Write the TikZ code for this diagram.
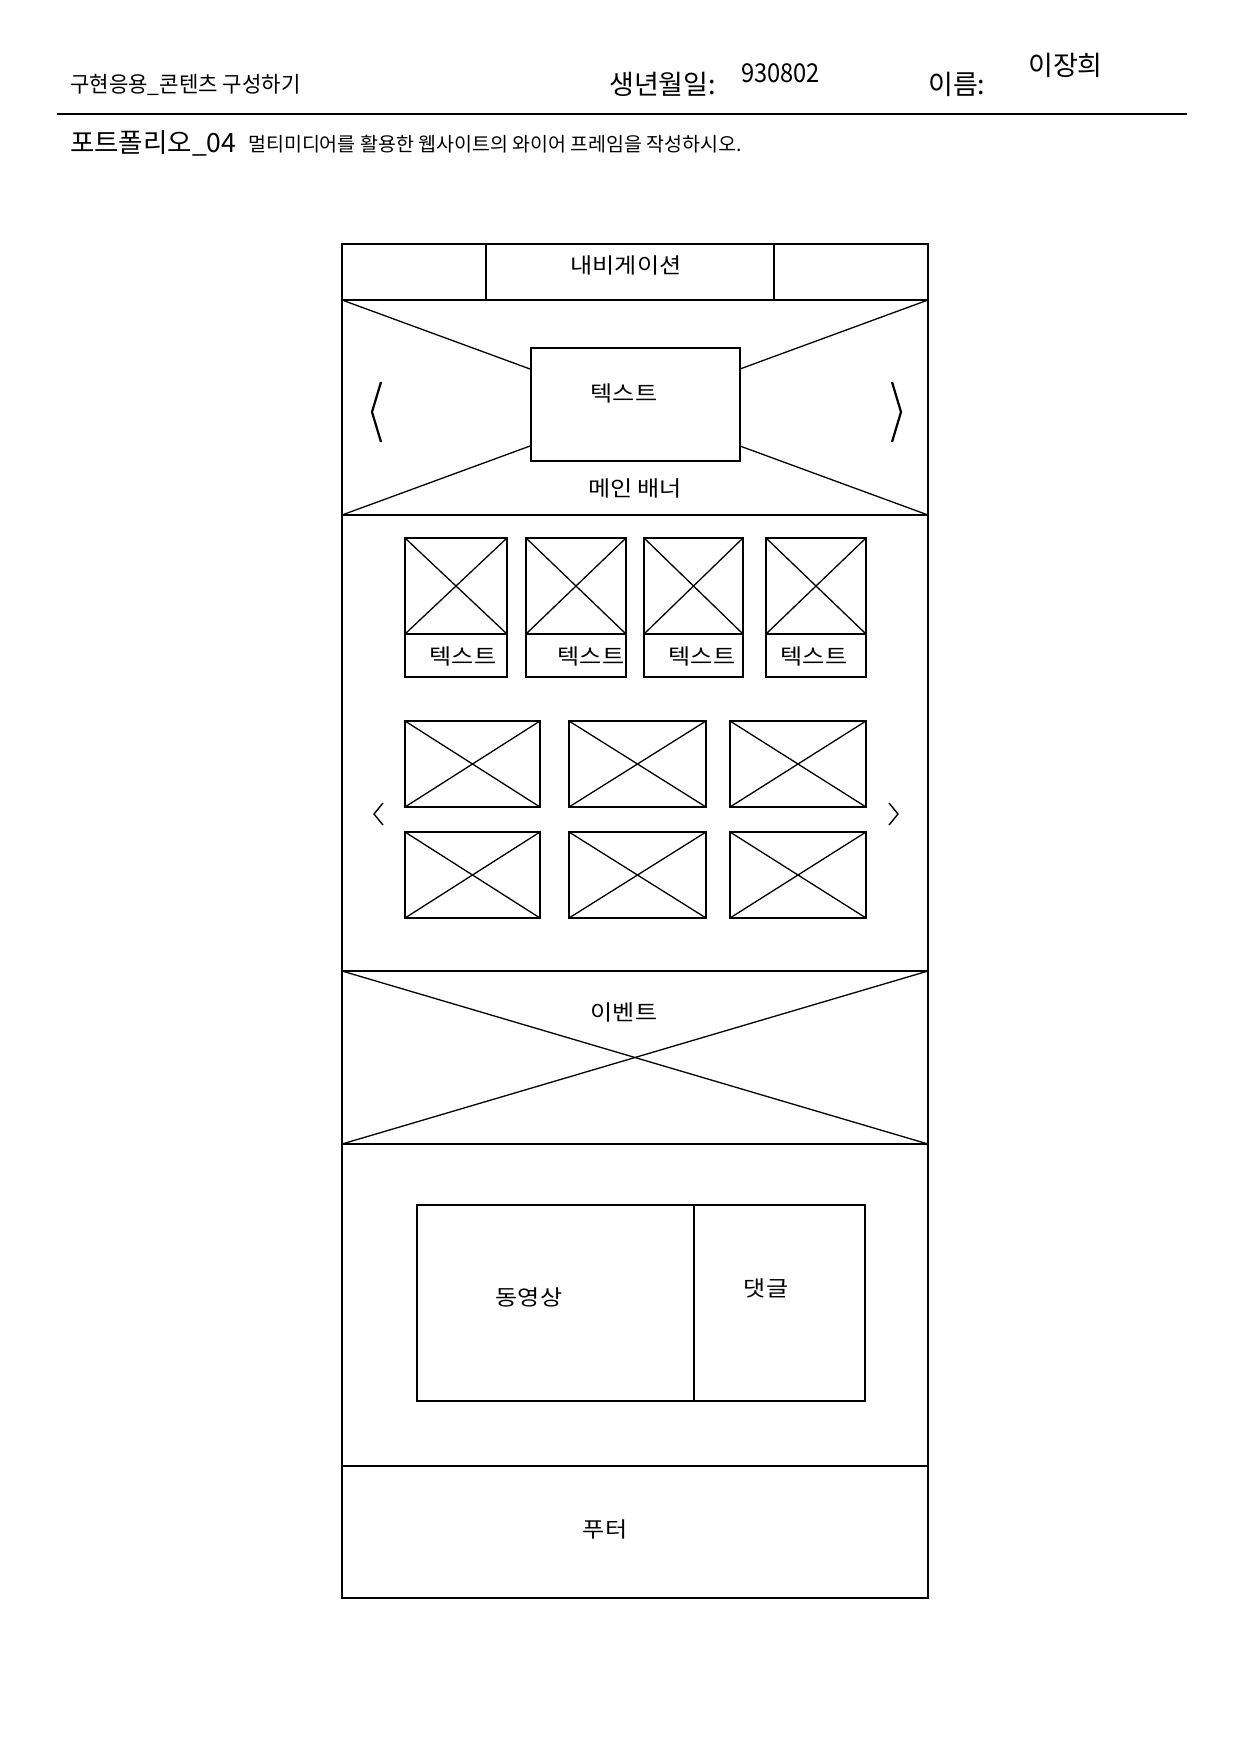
\documentclass[tikz,border=0pt]{standalone}
\usepackage{fontspec}
\setmainfont{Noto Sans CJK KR}
\newfontfamily\hfont{Noto Sans CJK KR}
\newfontfamily\kfont[FakeStretch=1.12]{Noto Sans CJK KR}
\begin{document}
\begin{tikzpicture}[x=1pt,y=-1pt,
  box/.style={draw, line width=1.6pt, inner sep=0pt, outer sep=0pt, anchor=north west},
  wbox/.style={box, fill=white},
  diag/.style={line width=1.3pt},
  lbl/.style={inner sep=0pt, font=\kfont\fontsize{21.5}{24}\selectfont},
  hdr/.style={inner sep=0pt, anchor=west},
  arr/.style={line width=1.6pt, line join=miter}
]
\useasboundingbox (0,0) rectangle (1240,1754);
\fill[white] (0,0) rectangle (1240,1754);

% ---------- header ----------
\node[hdr, font=\hfont\addfontfeature{FakeStretch=0.96}\fontsize{22}{24}\selectfont] (course) at (70,85) {구현응용\_콘텐츠 구성하기};
\node[hdr, font=\hfont\fontsize{27}{30}\selectfont] (birthlbl) at (609,84) {생년월일:};
\node[hdr, font=\hfont\addfontfeature{FakeStretch=0.91}\fontsize{26}{28}\selectfont] (birth) at (741,73) {930802};
\node[hdr, font=\hfont\fontsize{27}{30}\selectfont] (namelbl) at (928,84) {이름:};
\node[hdr, font=\hfont\fontsize{27}{30}\selectfont] (name) at (1028,65) {이장희};
\coordinate (hl) at (57,114);
\coordinate (hr) at (1187,114);
\draw[line width=1.4pt] (hl) -- (hr);
\node[hdr, font=\hfont\fontsize{26.5}{28}\selectfont] (pf) at (70,143) {포트폴리오\_04};
\node[hdr, font=\hfont\fontsize{19.5}{21}\selectfont] (task) at (248,144) {멀티미디어를 활용한 웹사이트의 와이어 프레임을 작성하시오.};

% ---------- sections ----------
\node[box, minimum width=586pt, minimum height=56pt] (nav) at (342,244) {};
\node[box, minimum width=288pt, minimum height=56pt] (navc) at (486,244) {};
\node[box, minimum width=586pt, minimum height=215pt] (banner) at (342,300) {};
\node[box, minimum width=586pt, minimum height=456pt] (content) at (342,515) {};
\node[box, minimum width=586pt, minimum height=173pt] (event) at (342,971) {};
\node[box, minimum width=586pt, minimum height=322pt] (media) at (342,1144) {};
\node[box, minimum width=586pt, minimum height=132pt] (footer) at (342,1466) {};

\node[lbl] (navt) at (626,265) {내비게이션};

% banner
\draw[diag] (banner.north west) -- (banner.south east);
\draw[diag] (banner.south west) -- (banner.north east);
\node[wbox, minimum width=209pt, minimum height=113pt] (btext) at (531,348) {};
\node[lbl] (btextl) at (624,393) {텍스트};
\node[lbl] (bannerl) at (635,488) {메인 배너};
\coordinate (la1) at (381,382); \coordinate (la2) at (372,412); \coordinate (la3) at (381,442);
\coordinate (ra1) at (892,382); \coordinate (ra2) at (901,412); \coordinate (ra3) at (892,442);
\draw[arr, line width=2.2pt] (la1) -- (la2) -- (la3);
\draw[arr, line width=2.2pt] (ra1) -- (ra2) -- (ra3);

% thumbnails with text
\foreach \i/\xa/\w/\lx in {1/405/102/463, 2/526/100/591, 3/644/99/702, 4/766/100/814}{
  \node[box, minimum width=\w pt, minimum height=96pt] (ti\i) at (\xa,538) {};
  \draw[diag] (ti\i.north west) -- (ti\i.south east);
  \draw[diag] (ti\i.south west) -- (ti\i.north east);
  \node[box, minimum width=\w pt, minimum height=43pt] (tt\i) at (\xa,634) {};
  \node[lbl] (tl\i) at (\lx,656) {텍스트};
}

% grid of images
\foreach \r/\ya in {1/721, 2/832}{
  \foreach \c/\xa/\w in {1/405/135, 2/569/137, 3/730/136}{
    \node[box, minimum width=\w pt, minimum height=86pt] (g\r\c) at (\xa,\ya) {};
    \draw[diag] (g\r\c.north west) -- (g\r\c.south east);
    \draw[diag] (g\r\c.south west) -- (g\r\c.north east);
  }
}
\coordinate (sl1) at (383,803); \coordinate (sl2) at (374,814); \coordinate (sl3) at (383,825);
\coordinate (sr1) at (889,803); \coordinate (sr2) at (898,814); \coordinate (sr3) at (889,825);
\draw[arr, line width=1.4pt] (sl1) -- (sl2) -- (sl3);
\draw[arr, line width=1.4pt] (sr1) -- (sr2) -- (sr3);

% event
\draw[diag] (event.north west) -- (event.south east);
\draw[diag] (event.south west) -- (event.north east);
\node[lbl] (eventl) at (624,1012) {이벤트};

% media
\node[box, minimum width=277pt, minimum height=196pt] (video) at (417,1205) {};
\node[box, minimum width=171pt, minimum height=196pt] (reply) at (694,1205) {};
\node[lbl] (videol) at (529,1297) {동영상};
\node[lbl] (replyl) at (766,1288) {댓글};

% footer
\node[lbl] (footerl) at (605,1529) {푸터};
\end{tikzpicture}
\end{document}
